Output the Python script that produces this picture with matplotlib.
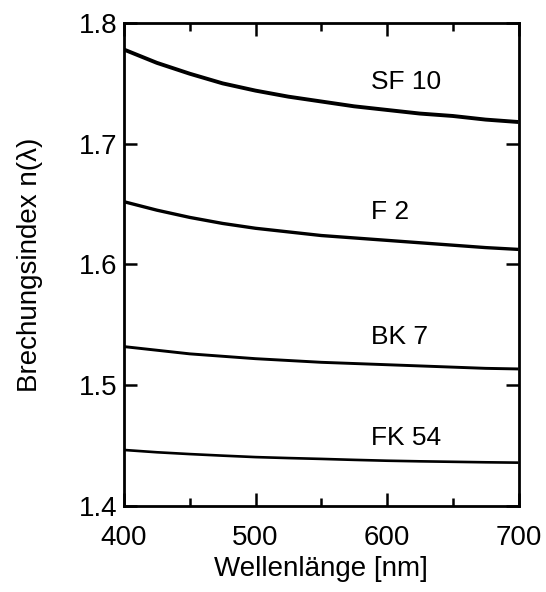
import matplotlib
matplotlib.use("Agg")
import matplotlib.pyplot as plt
from matplotlib.ticker import MultipleLocator, FixedLocator

plt.rcParams['font.family'] = ['Liberation Sans', 'DejaVu Sans']

wavelength = [400, 425, 450, 475, 500, 525, 550, 575, 600, 625, 650, 675, 700]
n_sf10 = [1.778, 1.767, 1.758, 1.750, 1.744, 1.739, 1.735, 1.731, 1.728, 1.725, 1.723, 1.720, 1.718]
n_f2 = [1.652, 1.645, 1.639, 1.634, 1.630, 1.627, 1.624, 1.622, 1.620, 1.618, 1.616, 1.614, 1.6125]
n_bk7 = [1.532, 1.529, 1.526, 1.524, 1.522, 1.5205, 1.519, 1.518, 1.517, 1.516, 1.515, 1.514, 1.5135]
n_fk54 = [1.4464, 1.4445, 1.443, 1.4417, 1.4405, 1.4397, 1.439, 1.4382, 1.4375, 1.437, 1.4366, 1.4362, 1.4359]

glass_names = ["SF 10", "F 2", "BK 7", "FK 54"]
label_y = [1.7514, 1.6435, 1.540, 1.4563]
label_x = 588

x_ticks = [400, 500, 600, 700]
y_ticks = [1.4, 1.5, 1.6, 1.7, 1.8]

fig = plt.figure(figsize=(5.46, 5.92), dpi=100)
ax = fig.add_axes([124 / 546, 1 - 506 / 592, (518.5 - 124) / 546, (506 - 23) / 592])

series = [n_sf10, n_f2, n_bk7, n_fk54]
widths = [2.8, 2.4, 2.1, 1.9]
for vals, lw in zip(series, widths):
    ax.plot(wavelength, vals, color='black', lw=lw, solid_capstyle='butt')

for name, yy in zip(glass_names, label_y):
    ax.text(label_x, yy, name, fontsize=19, ha='left', va='center', color='black')

ax.set_xlim(400, 700)
ax.set_ylim(1.4, 1.8)
ax.xaxis.set_major_locator(FixedLocator(x_ticks))
ax.xaxis.set_minor_locator(MultipleLocator(50))
ax.yaxis.set_major_locator(FixedLocator(y_ticks))
ax.set_yticklabels([f"{v:.1f}" for v in y_ticks])

for s in ax.spines.values():
    s.set_linewidth(2.0)

ax.tick_params(which='both', direction='in', top=True, right=True, width=1.8, colors='black')
ax.tick_params(which='major', length=9.5)
ax.tick_params(which='minor', length=5.5)
ax.tick_params(axis='x', which='major', labelsize=20, pad=14)
ax.tick_params(axis='y', which='major', labelsize=20, pad=4.5)

ax.set_xlabel("Wellenlänge [nm]", fontsize=20, labelpad=3)
ax.set_ylabel("Brechungsindex n(λ)", fontsize=20, labelpad=26)

fig.savefig("out.png", dpi=100)
